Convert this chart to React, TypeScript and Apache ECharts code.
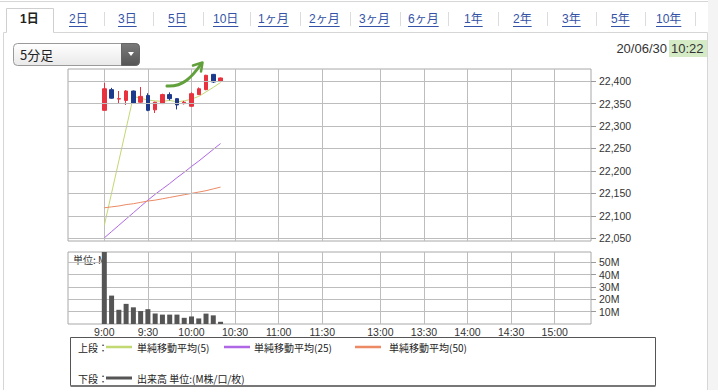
import React, { useEffect, useRef } from "react";
import * as echarts from "echarts";

// ---- data ----
const candleTimes = ["9:00", "9:05", "9:10", "9:15", "9:20", "9:25", "9:30", "9:35", "9:40", "9:45", "9:50", "9:55", "10:00", "10:05", "10:10", "10:15", "10:20"];
const openPrices = [22335, 22381, 22360, 22357, 22378, 22353, 22368, 22336, 22350, 22370, 22361, 22350, 22344, 22370, 22381, 22415, 22400];
const closePrices = [22383, 22362, 22361, 22378, 22351, 22366, 22335, 22353, 22370, 22361, 22347, 22353, 22372, 22383, 22413, 22398, 22407];
const lowPrices = [22335, 22361, 22350, 22347, 22350, 22352, 22333, 22329, 22349, 22357, 22337, 22348, 22343, 22369, 22380, 22396, 22399];
const highPrices = [22396, 22385, 22378, 22380, 22379, 22387, 22373, 22354, 22372, 22375, 22362, 22356, 22375, 22386, 22414, 22416, 22408];
const volumes = [75, 23, 11.5, 16.3, 13.5, 10.5, 12, 8.5, 7.6, 7.6, 7.6, 5, 6.1, 4.5, 8.4, 7, 1.8];
const ma5 = [22079, null, null, null, 22366, 22362, 22358, 22356, 22355, 22357, 22354, 22356, 22360, 22366, 22376, 22386, 22397];
const ma25 = [22051, 22065, 22079, 22093, 22107, 22121, 22135, 22148, 22160, 22172, 22185, 22197, 22210, 22222, 22235, 22248, 22261];
const ma50 = [22118, 22120, 22122, 22125, 22127, 22130, 22133, 22135, 22138, 22141, 22144, 22147, 22150, 22153, 22156, 22160, 22164];
const priceTicks = [22050, 22100, 22150, 22200, 22250, 22300, 22350, 22400];
const volumeTicks = [10, 20, 30, 40, 50];
const timeLabels = ["9:00", "9:30", "10:00", "10:30", "11:00", "11:30", "13:00", "13:30", "14:00", "14:30", "15:00"];
const tabLabels = ["1日", "2日", "3日", "5日", "10日", "1ヶ月", "2ヶ月", "3ヶ月", "6ヶ月", "1年", "2年", "3年", "5年", "10年"];
const legendLabels = ["単純移動平均(5)", "単純移動平均(25)", "単純移動平均(50)"];
const volumeLegend = "出来高 単位:(M株/口/枚)";
const periodLabel = "5分足";
const dateLabel = "20/06/30";
const timeLabel = "10:22";

// ---- time slots of the day (5-minute categories, lunch compressed) ----
function fmtTime(m: number) {
  return `${Math.floor(m / 60)}:${String(m % 60).padStart(2, "0")}`;
}
const categories: string[] = [];
for (let i = 0; i < 36; i++) categories.push(fmtTime(8 * 60 + 35 + 5 * i));
for (let i = 0; i < 37; i++) categories.push(fmtTime(12 * 60 + 25 + 5 * i));

// ---- layout ----
const tabX = [20, 69, 118, 168, 213, 258, 309, 359, 408, 464, 513, 562, 611, 656];
const sepX = [104, 153, 203, 250, 300, 350, 400, 448, 498, 547, 596, 645, 695];
const LATIN = "'Liberation Sans', Arial, 'Noto Sans CJK JP', sans-serif";
const JP = "'Noto Sans CJK JP', 'Liberation Sans', sans-serif";
const GRID_LINE = "#bdbdbd";
const UP = "#e8323f";
const DOWN = "#1d3a8c";
const C_MA5 = "#c2d873";
const C_MA25 = "#b067e6";
const C_MA50 = "#ec8a66";

function measure(s: string, font: string) {
  const ctx = document.createElement("canvas").getContext("2d")!;
  ctx.font = font;
  return ctx.measureText(s).width;
}

function bySlot<T>(values: T[]): (T | string)[] {
  return categories.map((c) => {
    const k = candleTimes.indexOf(c);
    return k < 0 ? "-" : values[k] === null ? "-" : values[k];
  });
}

export default function App() {
  const ref = useRef<HTMLDivElement>(null);

  useEffect(() => {
    const chart = echarts.init(ref.current!, null, { renderer: "svg" });

    const candleData = categories.map((c) => {
      const k = candleTimes.indexOf(c);
      return k < 0 ? ["-", "-", "-", "-"] : [openPrices[k], closePrices[k], lowPrices[k], highPrices[k]];
    });

    const isTimeLabel = (_i: number, v: string) => timeLabels.includes(v);

    const graphics: any[] = [];
    // page frame
    graphics.push({ type: "rect", shape: { x: 708, y: 0, width: 10, height: 390 }, style: { fill: "#f4f4f4" }, silent: true });
    graphics.push({ type: "line", shape: { x1: 0, y1: 1.5, x2: 708, y2: 1.5 }, style: { stroke: "#d6d6d6", lineWidth: 1 }, silent: true });
    graphics.push({ type: "line", shape: { x1: 707.5, y1: 32.5, x2: 707.5, y2: 390 }, style: { stroke: "#d6d6d6", lineWidth: 1 }, silent: true });
    graphics.push({ type: "line", shape: { x1: 3.5, y1: 32.5, x2: 3.5, y2: 390 }, style: { stroke: "#d6d6d6", lineWidth: 1 }, silent: true });
    graphics.push({ type: "line", shape: { x1: 53.5, y1: 32.5, x2: 707.5, y2: 32.5 }, style: { stroke: "#d6d6d6", lineWidth: 1 }, silent: true });
    graphics.push({ type: "line", shape: { x1: 3.5, y1: 32.5, x2: 6.5, y2: 32.5 }, style: { stroke: "#d6d6d6", lineWidth: 1 }, silent: true });
    graphics.push({
      type: "polyline",
      shape: { points: [[6.5, 32.5], [6.5, 8.5], [53.5, 8.5], [53.5, 32.5]] },
      style: { stroke: "#cfcfcf", lineWidth: 1, fill: null },
      silent: true,
    });
    // tabs
    tabLabels.forEach((t, i) => {
      const sel = i === 0;
      const font = `${sel ? "bold " : ""}12px ${LATIN}`;
      graphics.push({
        type: "text",
        x: tabX[i],
        y: 19,
        style: { text: t, fill: sel ? "#222" : "#3453a6", font, textVerticalAlign: "middle", textAlign: "left" },
        silent: true,
      });
      if (!sel) {
        const w = measure(t, font);
        graphics.push({
          type: "line",
          shape: { x1: tabX[i], y1: 26.5, x2: tabX[i] + w, y2: 26.5 },
          style: { stroke: "#3453a6", lineWidth: 1 },
          silent: true,
        });
      }
    });
    sepX.forEach((x) => {
      graphics.push({ type: "line", shape: { x1: x + 0.5, y1: 12, x2: x + 0.5, y2: 26 }, style: { stroke: "#dcdcdc", lineWidth: 1 }, silent: true });
    });
    // dropdown
    graphics.push({
      type: "rect",
      shape: { x: 13.5, y: 43.5, width: 126, height: 22, r: 4 },
      style: {
        fill: new echarts.graphic.LinearGradient(0, 0, 0, 1, [
          { offset: 0, color: "#ffffff" },
          { offset: 1, color: "#e9e9e9" },
        ]),
        stroke: "#9a9a9a",
        lineWidth: 1,
      },
      silent: true,
    });
    graphics.push({
      type: "rect",
      shape: { x: 121.5, y: 43.5, width: 18, height: 22, r: [0, 4, 4, 0] },
      style: {
        fill: new echarts.graphic.LinearGradient(0, 0, 0, 1, [
          { offset: 0, color: "#7a7a7a" },
          { offset: 1, color: "#555555" },
        ]),
        stroke: "#666",
        lineWidth: 1,
      },
      silent: true,
    });
    graphics.push({ type: "polygon", shape: { points: [[128, 52], [134, 52], [131, 56]] }, style: { fill: "#fff" }, silent: true });
    graphics.push({
      type: "text",
      x: 20,
      y: 54.5,
      style: { text: periodLabel, fill: "#222", font: `13px ${JP}`, textVerticalAlign: "middle" },
      silent: true,
    });
    // date / time
    graphics.push({
      type: "text",
      x: 667,
      y: 48.5,
      style: { text: dateLabel, fill: "#333", font: `13px ${LATIN}`, textAlign: "right", textVerticalAlign: "middle" },
      silent: true,
    });
    graphics.push({ type: "rect", shape: { x: 669, y: 40, width: 38, height: 17 }, style: { fill: "#d5ebc6" }, silent: true });
    graphics.push({
      type: "text",
      x: 671,
      y: 48.5,
      style: { text: timeLabel, fill: "#333", font: `13px ${LATIN}`, textVerticalAlign: "middle" },
      silent: true,
    });
    // green arrow annotation
    graphics.push({
      type: "bezierCurve",
      shape: { x1: 167, y1: 86, cpx1: 183, cpy1: 87, cpx2: 192, cpy2: 77, x2: 201.5, y2: 63.5 },
      style: { stroke: "#62a03c", lineWidth: 3, fill: null, lineCap: "round" },
      z: 50,
      silent: true,
    });
    graphics.push({
      type: "polyline",
      shape: { points: [[193, 65.5], [202.5, 62.5], [201, 71.5]] },
      style: { stroke: "#62a03c", lineWidth: 2.5, fill: null, lineCap: "round", lineJoin: "round" },
      z: 50,
      silent: true,
    });
    // unit label in volume panel
    graphics.push({
      type: "text",
      x: 73,
      y: 259,
      z: 0,
      style: { text: "単位: M", fill: "#333", font: `10px ${JP}`, textVerticalAlign: "middle" },
      silent: true,
    });
    // legend box
    graphics.push({ type: "rect", shape: { x: 70.5, y: 337.5, width: 585, height: 48 }, style: { fill: null, stroke: "#555", lineWidth: 1 }, silent: true });
    graphics.push({ type: "line", shape: { x1: 70.5, y1: 386, x2: 655.5, y2: 386 }, style: { stroke: "#777", lineWidth: 2 }, silent: true });
    const legFont = `10px ${JP}`;
    graphics.push({ type: "text", x: 78, y: 347, style: { text: "上段：", fill: "#222", font: legFont, textVerticalAlign: "middle" }, silent: true });
    graphics.push({ type: "text", x: 78, y: 378, style: { text: "下段：", fill: "#222", font: legFont, textVerticalAlign: "middle" }, silent: true });
    const legLineX = [106, 224, 355];
    const legTextX = [137, 254, 389];
    const legColors = [C_MA5, C_MA25, C_MA50];
    legendLabels.forEach((t, i) => {
      graphics.push({ type: "line", shape: { x1: legLineX[i], y1: 347, x2: legLineX[i] + 26, y2: 347 }, style: { stroke: legColors[i], lineWidth: 2.5 }, silent: true });
      graphics.push({ type: "text", x: legTextX[i], y: 347, style: { text: t, fill: "#222", font: legFont, textVerticalAlign: "middle" }, silent: true });
    });
    graphics.push({ type: "line", shape: { x1: 106, y1: 378, x2: 132, y2: 378 }, style: { stroke: "#555", lineWidth: 3 }, silent: true });
    graphics.push({ type: "text", x: 137, y: 378, style: { text: volumeLegend, fill: "#222", font: legFont, textVerticalAlign: "middle" }, silent: true });

    const lineSeries = (data: (number | null)[], color: string, connect = false) => ({
      type: "line",
      xAxisIndex: 0,
      yAxisIndex: 0,
      data: bySlot(data),
      showSymbol: false,
      symbol: "none",
      connectNulls: connect,
      silent: true,
      z: 3,
      lineStyle: { color, width: 1 },
    });

    const option: any = {
      animation: false,
      backgroundColor: "transparent",
      grid: [
        { left: 68, top: 69, width: 523, height: 172, show: true, borderColor: "#a8a8a8", borderWidth: 1, backgroundColor: "transparent", containLabel: false, outerBoundsMode: "none" },
        { left: 68, top: 252, width: 523, height: 72, show: true, borderColor: "#a8a8a8", borderWidth: 1, backgroundColor: "transparent", containLabel: false, outerBoundsMode: "none" },
      ],
      xAxis: [
        {
          type: "category",
          gridIndex: 0,
          data: categories,
          boundaryGap: false,
          axisLine: { show: false },
          axisTick: { show: false },
          axisLabel: { show: false },
          splitLine: { show: true, interval: isTimeLabel, lineStyle: { color: GRID_LINE, width: 1 } },
        },
        {
          type: "category",
          gridIndex: 1,
          data: categories,
          boundaryGap: false,
          axisLine: { show: false },
          axisTick: { show: false },
          axisLabel: { show: true, interval: isTimeLabel, color: "#333", fontSize: 10.5, fontFamily: LATIN, margin: 3 },
          splitLine: { show: true, interval: isTimeLabel, lineStyle: { color: GRID_LINE, width: 1 } },
        },
      ],
      yAxis: [
        {
          type: "value",
          gridIndex: 0,
          position: "right",
          min: 22044,
          max: 22427,
          scale: true,
          axisLine: { show: false },
          splitLine: { show: false },
          axisTick: { show: true, customValues: priceTicks, length: 5, lineStyle: { color: "#999" } },
          axisLabel: {
            show: true,
            customValues: priceTicks,
            formatter: (v: number) => v.toLocaleString("en-US"),
            color: "#333",
            fontSize: 10.5,
            fontFamily: LATIN,
            margin: 8,
          },
        },
        {
          type: "value",
          gridIndex: 1,
          position: "right",
          min: 0,
          max: 58.3,
          interval: 10,
          axisLine: { show: false },
          splitLine: { show: true, lineStyle: { color: GRID_LINE, width: 1 } },
          axisTick: { show: true, customValues: volumeTicks, length: 5, lineStyle: { color: "#999" } },
          axisLabel: {
            show: true,
            customValues: volumeTicks,
            formatter: (v: number) => `${v}M`,
            color: "#333",
            fontSize: 10.5,
            fontFamily: LATIN,
            margin: 8,
          },
        },
      ],
      series: [
        {
          type: "line",
          xAxisIndex: 0,
          yAxisIndex: 0,
          data: [],
          z: 1,
          silent: true,
          markLine: {
            silent: true,
            symbol: ["none", "none"],
            label: { show: false },
            emphasis: { disabled: true },
            lineStyle: { color: GRID_LINE, type: "solid", width: 1 },
            data: priceTicks.map((v) => ({ yAxis: v })),
          },
        },
        {
          type: "candlestick",
          xAxisIndex: 0,
          yAxisIndex: 0,
          data: candleData,
          barWidth: 4,
          z: 4,
          silent: true,
          itemStyle: { color: UP, color0: DOWN, borderColor: UP, borderColor0: DOWN, borderWidth: 1 },
        },
        lineSeries(ma5, C_MA5, true),
        lineSeries(ma25, C_MA25),
        lineSeries(ma50, C_MA50),
        {
          type: "bar",
          xAxisIndex: 1,
          yAxisIndex: 1,
          data: bySlot(volumes),
          barWidth: 5,
          silent: true,
          z: 3,
          itemStyle: { color: "#555" },
        },
      ],
      graphic: { elements: graphics },
    };

    chart.setOption(option);
    return () => chart.dispose();
  }, []);

  return (
    <div
      ref={ref}
      style={{ position: "fixed", left: 0, top: 0, width: 718, height: 390, background: "#fff" }}
    />
  );
}
